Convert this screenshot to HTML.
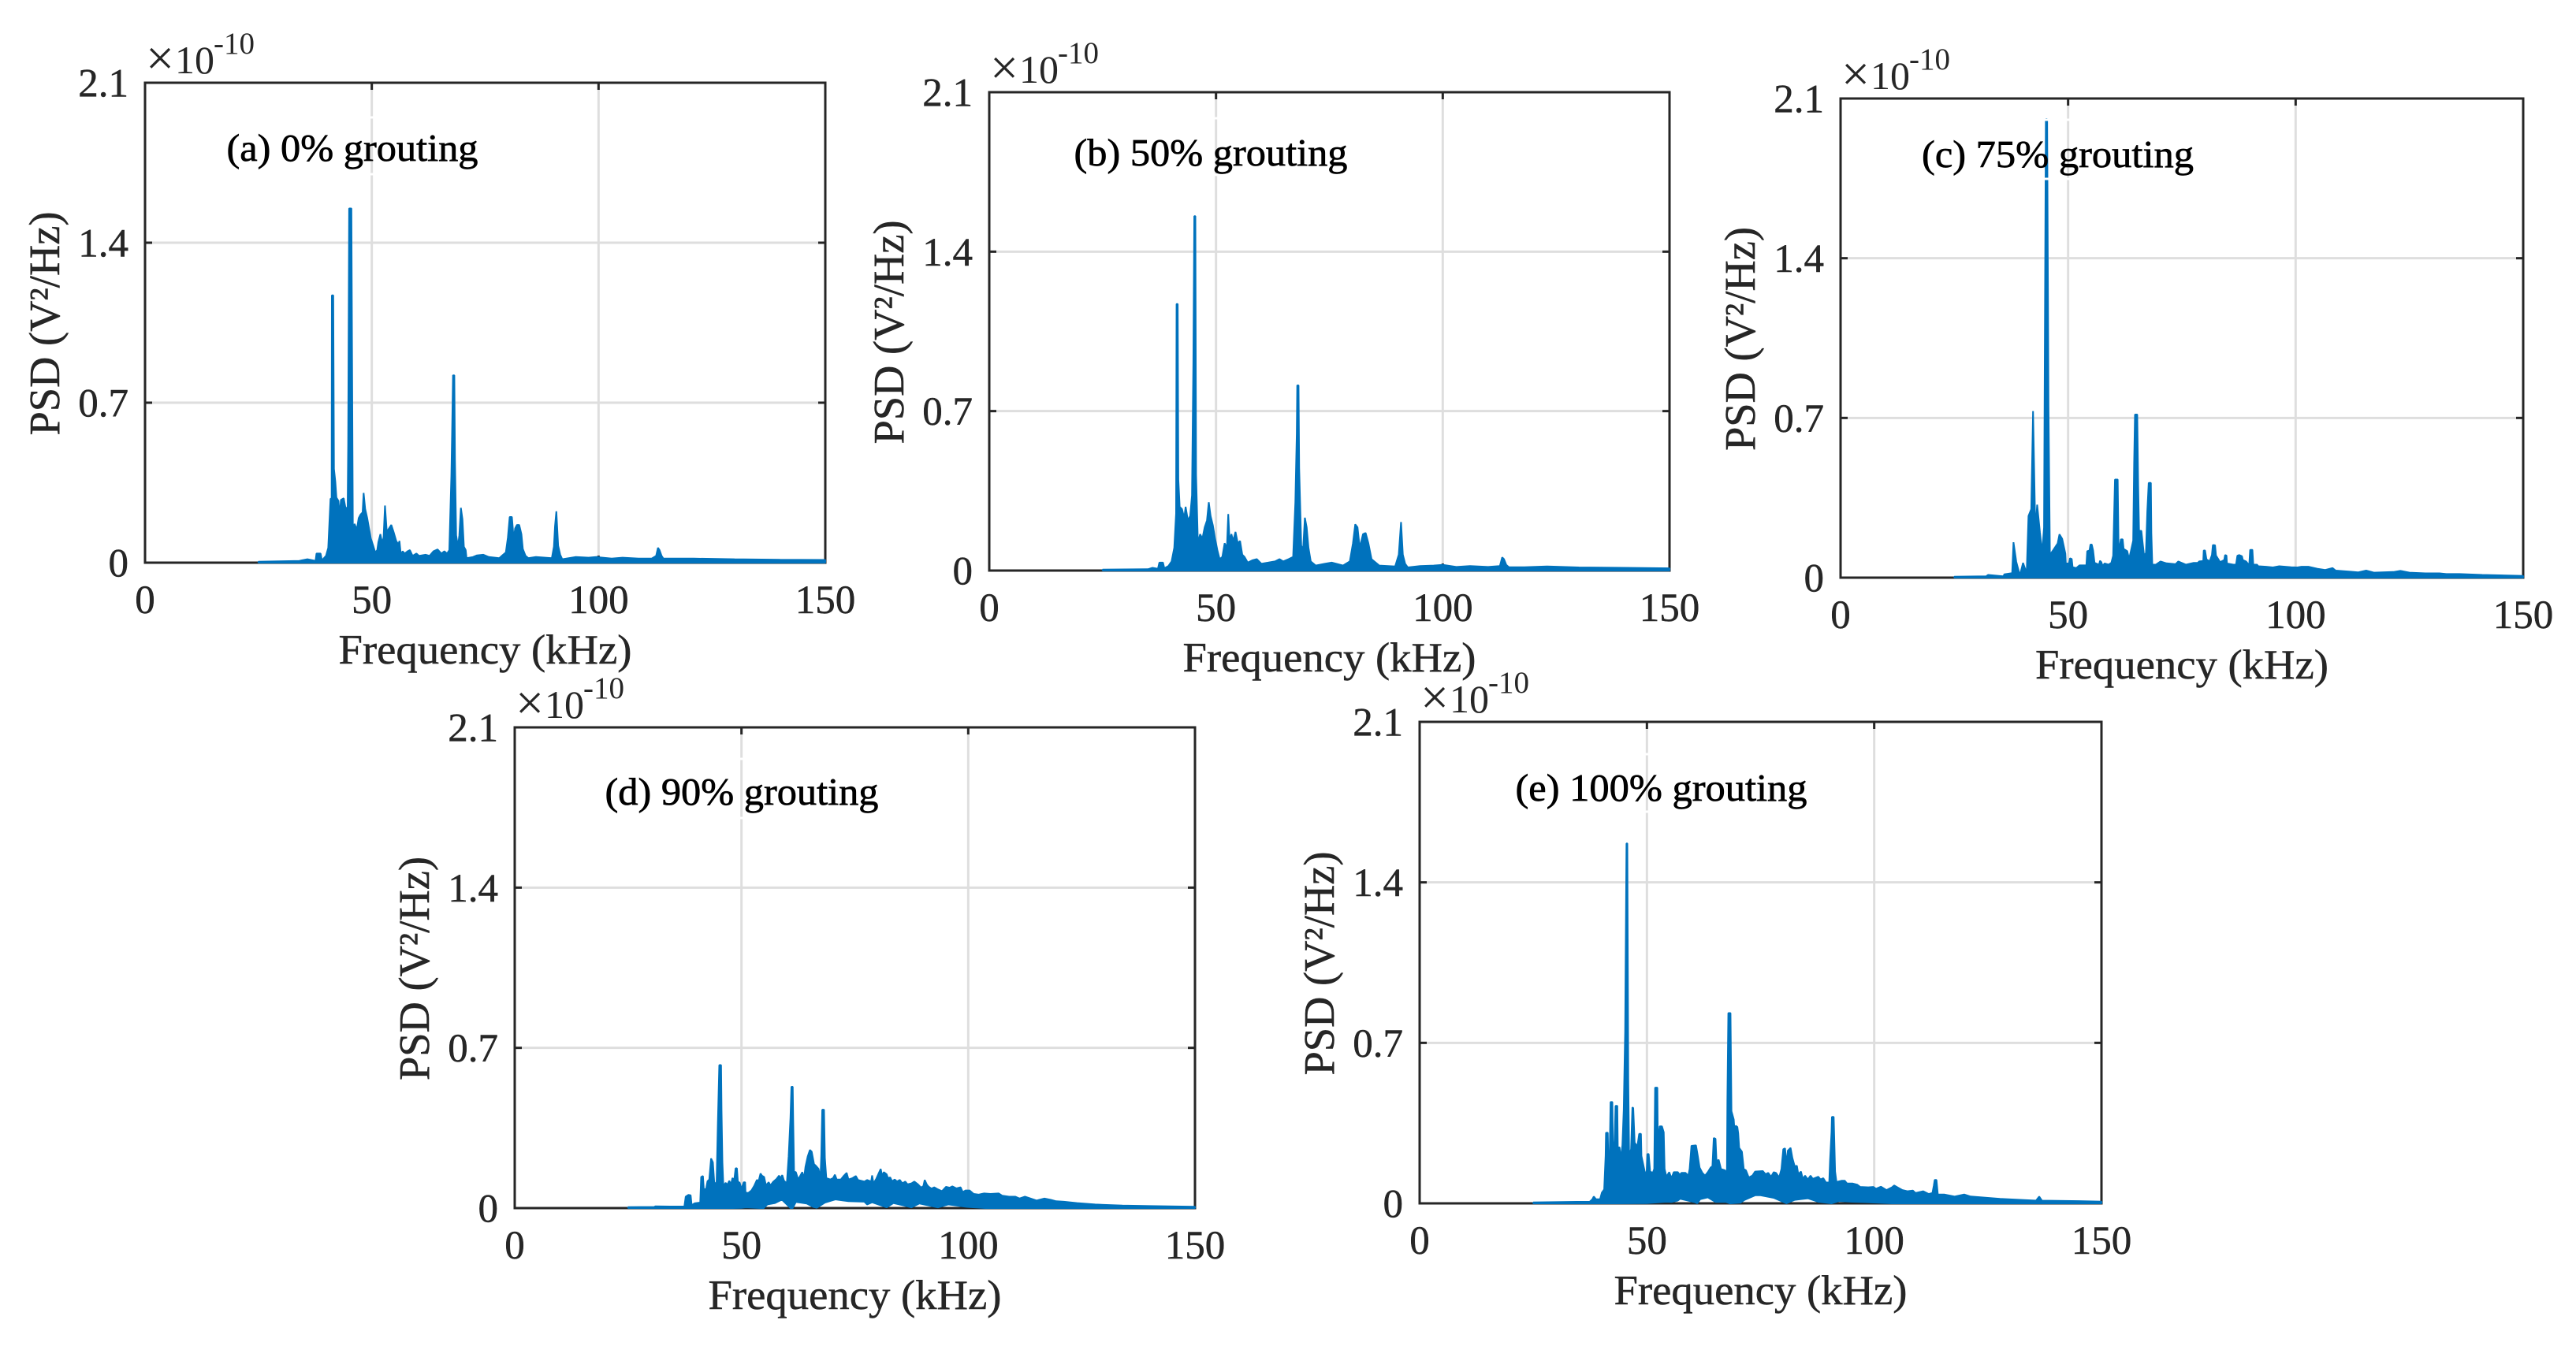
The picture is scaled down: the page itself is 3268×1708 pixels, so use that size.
<!DOCTYPE html>
<html lang="en">
<head>
<meta charset="utf-8">
<title>PSD spectra at grouting levels</title>
<style>
html,body{margin:0;padding:0;background:#fff;}
#figure{display:block;width:3268px;height:1708px;background:#fff;}
text{font-family:"Liberation Serif","Times New Roman",serif;}
</style>
</head>
<body>
<svg id="figure" xmlns="http://www.w3.org/2000/svg" width="3268" height="1708" viewBox="0 0 3268 1708"></svg>
<script>
// Axis values
const xTicks = [0, 50, 100, 150];
const xTickLabels = ["0", "50", "100", "150"];
const yTicks = [0, 0.7, 1.4, 2.1];
const yTickLabels = ["0", "0.7", "1.4", "2.1"];
const xGrid = [50, 100];
const yGrid = [0.7, 1.4];

// Panel (a) 0% grouting: kHz and PSD (x 1e-10 V^2/Hz)
const freqA = [25,34,35.8,37.6,37.8,38.7,39,39.9,40.4,40.9,41.15,41.2,41.5,41.66,41.95,42.2,42.65,42.94,43.2,43.8,44.2,44.67,44.8,45,45.5,45.83,46.2,46.7,47.1,47.5,47.97,48.2,48.55,49,49.4,49.8,50.3,50.75,51.2,51.45,51.9,52.3,52.6,52.9,53.3,53.8,54.3,54.8,55.4,55.85,56.1,56.4,56.8,57.25,57.9,58.4,59,59.85,60.4,61.9,62.75,63.6,64.5,65.35,66,66.6,67.1,67.55,67.7,67.9,68.2,68.35,68.6,69,69.3,69.65,70,70.3,70.7,70.9,72.3,73.2,74.6,75.8,78.1,79.55,80,80.4,80.9,81.1,81.3,81.6,82,82.5,83,83.3,83.9,84.5,86.2,89.7,90.15,90.4,90.7,91.1,91.55,92,94.9,97.8,99.5,102.9,105.3,108.8,111.7,112.7,113.1,113.45,113.9,114.3,118,121,130,140,150];
const psdA = [0.004,0.008,0.015,0.008,0.04,0.04,0.01,0.03,0.065,0.28,0.28,1.17,1.17,0.41,0.355,0.285,0.27,0.205,0.275,0.282,0.24,0.24,0.52,1.55,1.55,0.12,0.17,0.145,0.195,0.21,0.22,0.305,0.235,0.195,0.15,0.105,0.075,0.045,0.055,0.09,0.125,0.085,0.11,0.25,0.135,0.15,0.165,0.135,0.095,0.08,0.095,0.035,0.05,0.04,0.05,0.055,0.03,0.04,0.03,0.035,0.03,0.05,0.058,0.04,0.05,0.04,0.055,0.38,0.56,0.82,0.82,0.45,0.12,0.07,0.12,0.24,0.19,0.07,0.055,0.02,0.025,0.032,0.035,0.025,0.02,0.045,0.11,0.2,0.2,0.15,0.1,0.15,0.165,0.165,0.125,0.06,0.03,0.02,0.025,0.02,0.07,0.16,0.225,0.075,0.035,0.015,0.025,0.022,0.025,0.018,0.022,0.018,0.018,0.03,0.065,0.055,0.03,0.018,0.018,0.018,0.015,0.013,0.012];
const lowerFreqA = [25,150];
const lowerPsdA = [0,0];

// Panel (b) 50% grouting
const freqB = [25,35,36,37.2,37.5,38.3,38.6,39.5,40.2,40.8,41.2,41.3,41.55,41.7,42,42.5,43,43.3,43.8,44.3,44.7,45,45.2,45.45,45.6,46,46.5,47,47.5,48,48.4,48.8,49.3,49.8,50.3,50.8,51.4,51.9,52.4,52.7,53,53.4,53.8,54.3,54.8,55.3,55.8,56.3,57,58,59,60,61.5,63,64,64.8,66,67,67.5,67.8,67.9,68.2,68.35,68.8,69.2,69.6,70,70.4,70.9,72,74,75.5,78,79.5,80.2,80.7,81.2,81.7,82.4,83,83.6,84.3,86,89.5,90.3,90.8,91.2,91.7,92.3,95,98,100,103,106,110,112.6,113.1,113.5,114,114.6,118,123,130,140,150];
const psdB = [0.004,0.006,0.012,0.008,0.035,0.035,0.01,0.02,0.04,0.1,0.25,1.17,1.17,0.4,0.28,0.27,0.23,0.28,0.22,0.24,0.33,0.91,1.556,1.556,0.42,0.12,0.16,0.14,0.19,0.22,0.3,0.24,0.2,0.14,0.09,0.05,0.06,0.12,0.1,0.248,0.13,0.16,0.13,0.17,0.12,0.13,0.07,0.06,0.035,0.045,0.05,0.03,0.035,0.04,0.05,0.04,0.05,0.06,0.3,0.6,0.813,0.813,0.45,0.11,0.09,0.232,0.19,0.1,0.04,0.022,0.03,0.035,0.022,0.04,0.12,0.203,0.19,0.1,0.16,0.165,0.12,0.05,0.022,0.018,0.07,0.213,0.07,0.03,0.014,0.02,0.022,0.025,0.016,0.02,0.016,0.02,0.058,0.05,0.025,0.015,0.015,0.018,0.014,0.012,0.01];
const lowerFreqB = [25,150];
const lowerPsdB = [0,0];

// Panel (c) 75% grouting
const freqC = [25,32,32.4,35.8,36,37.7,38,38.6,39.4,40.1,40.9,41.3,41.9,42.3,42.8,43.2,43.8,44.3,44.7,45.1,45.4,45.7,46,46.7,47.7,48.1,48.7,49.4,49.5,50.2,50.4,50.8,51,51.8,52.5,54,54.2,54.7,54.9,55.2,55.5,55.8,56.8,57,57.3,57.6,58,58.9,59.5,59.9,60.3,60.9,61.1,61.4,61.6,62,62.2,63,63.4,63.8,64.3,64.5,64.7,65.2,65.4,65.6,66.1,66.4,66.7,67.1,67.4,67.7,68.2,68.3,68.5,69.3,70.3,71.6,73.6,74.2,75.9,77.6,78.5,78.8,79.7,79.8,80.1,80.4,81.1,81.6,81.8,82.3,82.5,83.4,84.3,84.5,84.8,84.9,86.3,86.9,87.2,87.6,88.2,88.4,89.1,89.8,90,90.5,90.7,91.5,91.8,93.5,95,96.4,99,100.4,101.3,102.8,104.8,106.5,108.1,108.8,111.7,113.7,115.5,117.2,121.5,123,125,128.5,131.6,133.1,136,141,150];
const psdC = [0.004,0.006,0.012,0.006,0.015,0.02,0.155,0.07,0.01,0.065,0.02,0.27,0.3,0.73,0.2,0.32,0.2,0.11,0.22,2.01,2.01,0.75,0.1,0.12,0.15,0.19,0.17,0.105,0.062,0.062,0.085,0.082,0.046,0.042,0.054,0.054,0.116,0.119,0.145,0.145,0.119,0.065,0.057,0.074,0.068,0.051,0.062,0.057,0.065,0.096,0.43,0.43,0.105,0.145,0.168,0.168,0.126,0.116,0.082,0.116,0.162,0.5,0.715,0.715,0.4,0.205,0.205,0.151,0.096,0.108,0.288,0.415,0.415,0.196,0.057,0.057,0.071,0.063,0.059,0.071,0.057,0.065,0.065,0.071,0.073,0.119,0.119,0.08,0.071,0.099,0.143,0.142,0.097,0.068,0.077,0.099,0.097,0.062,0.057,0.057,0.096,0.099,0.094,0.077,0.071,0.054,0.122,0.122,0.057,0.057,0.05,0.048,0.045,0.05,0.046,0.045,0.048,0.048,0.039,0.034,0.042,0.031,0.027,0.023,0.031,0.022,0.025,0.03,0.022,0.019,0.019,0.016,0.016,0.012,0.008];
const lowerFreqC = [25,150];
const lowerPsdC = [0,0];

// Panel (d) 90% grouting
const freqD = [25,30.8,31,34.2,37.4,37.7,38.3,38.8,39,39.7,40.9,41.1,41.5,41.7,42.2,42.5,42.9,43.3,43.7,44,44.5,44.8,45.1,45.5,45.6,45.8,46,46.5,46.9,47.3,47.7,48,48.4,48.7,49,49.2,49.6,50,50.5,50.8,50.9,51.5,52.2,52.8,53.4,53.8,54.2,54.5,55,55.4,56,56.4,57,57.7,58.3,58.6,59,59.4,60,60.4,60.8,61,61.3,61.4,61.6,62,62.5,63.4,63.8,64.1,64.6,65.1,65.5,66,66.4,67,67.4,67.6,67.8,68.2,68.4,68.7,69.6,70.2,70.6,71,71.9,72.6,73.2,73.6,74.5,75.2,75.7,77.1,77.7,78.6,78.8,79.1,79.7,80.3,80.7,81,81.4,82,82.3,82.8,83.2,83.8,84.3,84.9,85.5,86.1,86.6,87.5,88.1,88.9,89.6,90.1,90.4,90.9,91.3,91.9,92.5,93.3,94.2,95.1,95.9,96.5,97.4,98.3,98.8,99.4,100.3,101.2,102.3,103.5,104.9,106.7,107.5,109,110.4,111.3,112.5,114.2,115.1,116.8,118.2,119.4,121.1,124,128,134,140,150];
const psdD = [0.004,0.005,0.008,0.007,0.007,0.05,0.058,0.056,0.013,0.021,0.024,0.136,0.14,0.082,0.084,0.117,0.125,0.217,0.2,0.114,0.102,0.373,0.625,0.625,0.424,0.2,0.096,0.11,0.102,0.119,0.104,0.131,0.123,0.174,0.174,0.116,0.111,0.084,0.113,0.113,0.068,0.066,0.077,0.097,0.123,0.119,0.151,0.142,0.136,0.099,0.113,0.099,0.115,0.127,0.142,0.131,0.144,0.119,0.108,0.227,0.395,0.53,0.53,0.383,0.159,0.157,0.125,0.157,0.131,0.18,0.226,0.254,0.246,0.192,0.185,0.171,0.128,0.231,0.43,0.43,0.219,0.131,0.125,0.131,0.146,0.125,0.125,0.142,0.154,0.125,0.131,0.14,0.123,0.116,0.123,0.116,0.143,0.108,0.127,0.154,0.171,0.142,0.157,0.148,0.131,0.134,0.117,0.125,0.116,0.123,0.108,0.116,0.104,0.108,0.116,0.104,0.09,0.096,0.123,0.102,0.093,0.085,0.091,0.082,0.074,0.093,0.089,0.095,0.086,0.091,0.07,0.077,0.077,0.062,0.059,0.064,0.062,0.064,0.054,0.05,0.05,0.042,0.05,0.039,0.033,0.042,0.036,0.03,0.028,0.022,0.016,0.011,0.009,0.006];
const lowerFreqD = [25,48,50,51,54.2,54.9,55.7,57.4,58.9,60,60.8,61.3,62,64.4,65.8,66.6,68.4,70.7,73.6,77.1,77.7,78.8,82,83.5,87.5,89.2,93.3,95.6,99.7,103.8,150];
const lowerPsdD = [0,0,0.001,0.003,0,0,0.016,0.022,0.037,0.016,0,0,0.027,0.02,0.005,0.001,0.024,0.038,0.03,0.028,0.016,0.025,0.003,0.022,0.003,0.02,0.003,0.016,0.005,0,0];

// Panel (e) 100% grouting
const freqE = [25,34.5,37.4,38,38.3,38.8,39.7,40.1,40.6,40.9,41,41.4,41.5,41.8,42,42.4,42.6,42.9,43.1,43.5,43.6,44,44.2,44.6,44.9,45.2,45.5,45.7,45.9,46.1,46.5,46.8,47,47.3,47.9,48.3,48.7,48.8,49.1,49.5,49.9,50.1,50.4,50.7,51.3,51.6,51.8,52.3,52.4,52.8,53.3,53.7,53.9,54.3,54.9,55.4,55.9,56.8,57.2,57.6,58.5,59.1,59.4,59.8,60.8,61.2,61.6,62.2,62.8,63.4,64,64.4,64.7,65.1,65.3,65.8,66.3,67.2,67.6,67.7,67.9,68.4,68.6,69.1,69.4,69.5,69.9,70.1,70.3,70.9,71.3,71.8,72.4,73.2,73.8,75.5,76.1,76.7,77.3,77.9,78.4,79.1,79.6,80,80.4,80.7,81,81.6,82,82.5,83,83.3,83.9,84.3,84.8,85.4,86,86.5,87.7,88.2,88.8,89.4,90.1,90.3,90.6,90.7,91.1,91.4,91.7,92.9,93.5,94,95.2,96.3,96.9,98.7,99.8,100.4,101.5,102.7,103.9,104.4,105.3,106.2,107.3,108.5,109.1,110.8,112,112.8,113.1,113.3,113.7,114,115.4,117.7,119.8,121.2,127.7,135.6,136.3,136.9,145,150];
const psdE = [0.004,0.007,0.007,0.018,0.03,0.018,0.018,0.047,0.061,0.207,0.308,0.308,0.199,0.199,0.442,0.442,0.167,0.274,0.425,0.425,0.244,0.244,0.19,0.253,0.408,0.75,1.57,1.57,0.54,0.207,0.236,0.419,0.416,0.265,0.248,0.303,0.303,0.207,0.179,0.141,0.121,0.215,0.215,0.139,0.133,0.15,0.505,0.505,0.265,0.336,0.336,0.31,0.15,0.116,0.136,0.11,0.136,0.136,0.125,0.133,0.133,0.121,0.15,0.251,0.253,0.207,0.156,0.133,0.121,0.136,0.156,0.162,0.285,0.282,0.185,0.19,0.15,0.144,0.127,0.454,0.83,0.83,0.402,0.366,0.282,0.339,0.333,0.305,0.242,0.225,0.15,0.144,0.113,0.121,0.139,0.141,0.127,0.133,0.116,0.136,0.133,0.113,0.15,0.236,0.24,0.167,0.23,0.242,0.198,0.162,0.164,0.127,0.139,0.107,0.121,0.104,0.121,0.107,0.116,0.104,0.11,0.091,0.091,0.19,0.311,0.377,0.377,0.139,0.093,0.099,0.099,0.087,0.087,0.081,0.072,0.07,0.072,0.064,0.073,0.058,0.07,0.078,0.068,0.058,0.053,0.056,0.045,0.053,0.041,0.045,0.076,0.102,0.102,0.039,0.039,0.03,0.039,0.03,0.02,0.012,0.03,0.012,0.01,0.008];
const lowerFreqE = [25,43,50,54.2,55.4,56.8,57.3,60.5,61.1,61.7,63.4,65.1,67.4,68.3,70.6,71.5,73.8,75,77.9,80.7,82.5,85.4,87.7,90.6,92.3,95.2,98,103.9,150];
const lowerPsdE = [0,0,0.001,0.007,0.006,0.012,0.02,0.005,0,0.018,0.026,0.006,0.006,0,0.003,0.015,0.035,0.035,0.024,0,0.015,0.022,0.007,0,0.01,0.007,0.005,0,0];

// Page layout of the five panels (not data)
const panels = [
  {id:"a", label:"(a) 0% grouting",   left:184,  right:1047, top:105, bottom:714,  freq:freqA, psd:psdA, lowF:lowerFreqA, lowP:lowerPsdA, ax:287.5,  ay:204,  aw:319, bt:149, bb:221},
  {id:"b", label:"(b) 50% grouting",  left:1255, right:2118, top:117, bottom:724,  freq:freqB, psd:psdB, lowF:lowerFreqB, lowP:lowerPsdB, ax:1362.5, ay:210,  aw:347, bt:150, bb:222},
  {id:"c", label:"(c) 75% grouting",  left:2335, right:3201, top:125, bottom:733,  freq:freqC, psd:psdC, lowF:lowerFreqC, lowP:lowerPsdC, ax:2438,   ay:212,  aw:345, bt:152, bb:227},
  {id:"d", label:"(d) 90% grouting",  left:653,  right:1516, top:923, bottom:1533, freq:freqD, psd:psdD, lowF:lowerFreqD, lowP:lowerPsdD, ax:767.5,  ay:1021, aw:347, bt:963, bb:1038},
  {id:"e", label:"(e) 100% grouting", left:1801, right:2666, top:916, bottom:1527, freq:freqE, psd:psdE, lowF:lowerFreqE, lowP:lowerPsdE, ax:1922.5, ay:1016, aw:370, bt:957, bb:1030}
];

const NS = "http://www.w3.org/2000/svg";
const root = document.getElementById("figure");
const INK = "#262626";

function make(tag, parent, attrs, content) {
  const el = document.createElementNS(NS, tag);
  for (const k in attrs) el.setAttribute(k, attrs[k]);
  if (content !== undefined) el.textContent = content;
  parent.appendChild(el);
  return el;
}

panels.forEach(function (p) {
  const xScale = function (f) { return p.left + (f - xTicks[0]) / (xTicks[xTicks.length - 1] - xTicks[0]) * (p.right - p.left); };
  const yScale = function (v) { return p.bottom - (v - yTicks[0]) / (yTicks[yTicks.length - 1] - yTicks[0]) * (p.bottom - p.top); };

  const g = make("g", root, {});
  
  

  xGrid.forEach(function (f) {
    const line = make("line", g, {x1:xScale(f), x2:xScale(f), y1:p.top, y2:p.bottom, stroke:"#dedede", "stroke-width":3});
    
    
  });
  yGrid.forEach(function (v) {
    const line = make("line", g, {x1:p.left, x2:p.right, y1:yScale(v), y2:yScale(v), stroke:"#dedede", "stroke-width":3});
    
    
  });

  const box = make("rect", g, {x:p.left, y:p.top, width:p.right - p.left, height:p.bottom - p.top, fill:"none", stroke:INK, "stroke-width":3});
  
  

  xTicks.forEach(function (f, i) {
    const x = xScale(f);
    if (i > 0 && i < xTicks.length - 1) {
      const t1 = make("line", g, {x1:x, x2:x, y1:p.bottom, y2:p.bottom - 9, stroke:INK, "stroke-width":3});
      
      
      const t2 = make("line", g, {x1:x, x2:x, y1:p.top, y2:p.top + 9, stroke:INK, "stroke-width":3});
      
      
    }
    const label = make("text", g, {x:x, y:p.bottom + 64, "text-anchor":"middle", "font-size":51, fill:INK, stroke:INK, "stroke-width":0.5}, xTickLabels[i]);
    
    
  });

  yTicks.forEach(function (v, i) {
    const y = yScale(v);
    if (i > 0 && i < yTicks.length - 1) {
      const t1 = make("line", g, {x1:p.left, x2:p.left + 9, y1:y, y2:y, stroke:INK, "stroke-width":3});
      
      
      const t2 = make("line", g, {x1:p.right, x2:p.right - 9, y1:y, y2:y, stroke:INK, "stroke-width":3});
      
      
    }
    const label = make("text", g, {x:p.left - 21, y:y + 17.5, "text-anchor":"end", "font-size":51, fill:INK, stroke:INK, "stroke-width":0.5}, yTickLabels[i]);
    
    
  });

  const upperPts = p.freq.map(function (f, i) { return xScale(f).toFixed(1) + "," + yScale(p.psd[i]).toFixed(1); });
  const lowerPts = p.lowF.map(function (f, i) { return xScale(f).toFixed(1) + "," + yScale(p.lowP[i]).toFixed(1); }).reverse();
  const series = make("polygon", g, {points:upperPts.concat(lowerPts).join(" "), fill:"#0072BD", stroke:"#0072BD", "stroke-width":2, "stroke-linejoin":"bevel"});
  
  

  const noteBox = make("rect", g, {x:p.ax - 12, y:p.bt, width:p.aw + 24, height:p.bb - p.bt, fill:"none", stroke:"#ffffff", "stroke-width":3});
  
  

  const note = make("text", g, {x:p.ax, y:p.ay, "font-size":49, fill:"#000", stroke:"#000", "stroke-width":0.7, textLength:p.aw, lengthAdjust:"spacingAndGlyphs"}, p.label);
  
  

  const xTitle = make("text", g, {x:(p.left + p.right) / 2, y:p.bottom + 128, "text-anchor":"middle", "font-size":53, fill:INK, stroke:INK, "stroke-width":0.5, textLength:372, lengthAdjust:"spacingAndGlyphs"}, "Frequency (kHz)");
  
  

  const ly = (p.top + p.bottom) / 2 + 1;
  const yTitle = make("text", g, {x:0, y:0, transform:"translate(" + (p.left - 109) + " " + ly + ") rotate(-90)", "text-anchor":"middle", "font-size":55, fill:INK, stroke:INK, "stroke-width":0.5, textLength:284, lengthAdjust:"spacingAndGlyphs"}, "PSD (V\u00B2/Hz)");
  
  

  const exp = make("text", g, {"font-size":50, fill:INK});
  
  
  make("tspan", exp, {x:p.left + 1, y:p.top - 10, "font-size":64}, "\u00D7");
  make("tspan", exp, {x:p.left + 38, y:p.top - 12}, "10");
  make("tspan", exp, {x:p.left + 87, y:p.top - 37, "font-size":39}, "-10");
});
</script>
</body>
</html>
